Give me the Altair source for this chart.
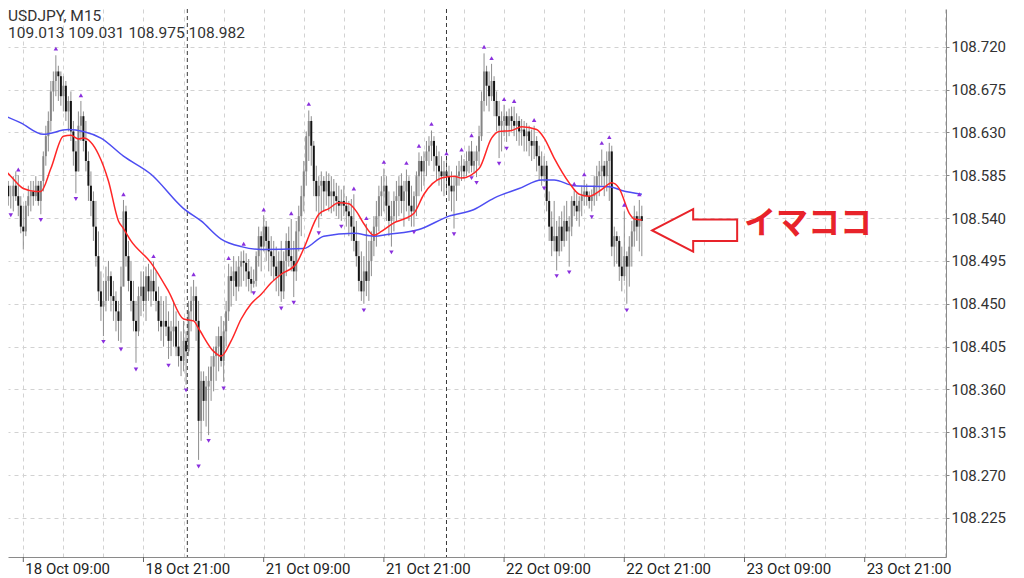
import altair as alt
import pandas as pd

SYMBOL = "USDJPY, M15"
OHLC_TEXT = "109.013 109.031 108.975 108.982"

FIRST_OPEN = 108.560
HIGH = [
    108.584, 108.578, 108.579, 108.574, 108.584, 108.589, 108.585, 108.563, 108.553, 108.558, 108.574, 108.579, 108.579, 108.584, 108.579, 108.574,
    108.610, 108.637, 108.652, 108.684, 108.694, 108.711, 108.700, 108.694, 108.689, 108.684, 108.668, 108.673, 108.642, 108.621, 108.652, 108.663,
    108.652, 108.642, 108.610, 108.589, 108.568, 108.558, 108.526, 108.484, 108.474, 108.489, 108.495, 108.484, 108.474, 108.463, 108.453, 108.489,
    108.559, 108.553, 108.516, 108.495, 108.474, 108.453, 108.468, 108.484, 108.484, 108.489, 108.492, 108.486, 108.494, 108.484, 108.468, 108.458,
    108.453, 108.458, 108.442, 108.432, 108.453, 108.442, 108.432, 108.421, 108.432, 108.421, 108.453, 108.468, 108.475, 108.468, 108.453, 108.379,
    108.379, 108.374, 108.384, 108.395, 108.405, 108.416, 108.426, 108.437, 108.432, 108.453, 108.492, 108.489, 108.500, 108.495, 108.500, 108.505,
    108.506, 108.503, 108.497, 108.489, 108.486, 108.505, 108.531, 108.526, 108.543, 108.537, 108.531, 108.521, 108.516, 108.510, 108.505, 108.516,
    108.505, 108.524, 108.531, 108.539, 108.516, 108.537, 108.553, 108.574, 108.600, 108.631, 108.653, 108.647, 108.621, 108.595, 108.584, 108.589,
    108.584, 108.589, 108.587, 108.584, 108.581, 108.577, 108.574, 108.570, 108.574, 108.563, 108.558, 108.560, 108.565, 108.537, 108.516, 108.505,
    108.500, 108.534, 108.516, 108.526, 108.542, 108.558, 108.574, 108.584, 108.592, 108.584, 108.568, 108.558, 108.568, 108.579, 108.584, 108.587,
    108.579, 108.591, 108.584, 108.574, 108.568, 108.589, 108.609, 108.605, 108.610, 108.621, 108.626, 108.632, 108.626, 108.616, 108.610, 108.605,
    108.600, 108.602, 108.595, 108.589, 108.584, 108.595, 108.600, 108.606, 108.602, 108.610, 108.616, 108.621, 108.610, 108.616, 108.637, 108.673,
    108.713, 108.700, 108.694, 108.702, 108.689, 108.673, 108.663, 108.652, 108.659, 108.652, 108.655, 108.657, 108.657, 108.650, 108.647, 108.644,
    108.642, 108.640, 108.637, 108.633, 108.637, 108.626, 108.616, 108.610, 108.605, 108.600, 108.568, 108.547, 108.558, 108.537, 108.542, 108.547,
    108.553, 108.558, 108.542, 108.563, 108.569, 108.566, 108.563, 108.574, 108.580, 108.576, 108.568, 108.570, 108.584, 108.595, 108.600, 108.612,
    108.600, 108.610, 108.619, 108.616, 108.531, 108.526, 108.521, 108.510, 108.547, 108.505, 108.521, 108.537, 108.553, 108.547, 108.559, 108.553,
]
LOW = [
    108.542, 108.553, 108.553, 108.550, 108.547, 108.558, 108.542, 108.524, 108.507, 108.521, 108.542, 108.547, 108.553, 108.558, 108.553, 108.544,
    108.568, 108.595, 108.610, 108.631, 108.652, 108.668, 108.663, 108.658, 108.652, 108.642, 108.631, 108.621, 108.595, 108.566, 108.589, 108.621,
    108.610, 108.589, 108.558, 108.542, 108.516, 108.489, 108.453, 108.432, 108.416, 108.442, 108.453, 108.442, 108.432, 108.421, 108.411, 108.409,
    108.474, 108.489, 108.463, 108.442, 108.421, 108.388, 108.416, 108.437, 108.442, 108.432, 108.453, 108.447, 108.453, 108.442, 108.421, 108.411,
    108.405, 108.416, 108.392, 108.395, 108.405, 108.395, 108.384, 108.374, 108.379, 108.365, 108.395, 108.421, 108.432, 108.411, 108.286, 108.306,
    108.327, 108.321, 108.312, 108.348, 108.358, 108.369, 108.379, 108.384, 108.368, 108.405, 108.432, 108.447, 108.458, 108.453, 108.463, 108.468,
    108.474, 108.468, 108.463, 108.461, 108.467, 108.468, 108.489, 108.484, 108.505, 108.495, 108.484, 108.479, 108.474, 108.463, 108.458, 108.452,
    108.455, 108.479, 108.489, 108.484, 108.457, 108.474, 108.505, 108.521, 108.547, 108.574, 108.600, 108.595, 108.563, 108.547, 108.530, 108.542,
    108.547, 108.553, 108.547, 108.545, 108.547, 108.542, 108.539, 108.537, 108.542, 108.531, 108.521, 108.516, 108.505, 108.489, 108.463, 108.453,
    108.450, 108.458, 108.453, 108.479, 108.500, 108.510, 108.526, 108.542, 108.547, 108.537, 108.521, 108.510, 108.526, 108.537, 108.542, 108.545,
    108.531, 108.547, 108.537, 108.531, 108.531, 108.542, 108.563, 108.568, 108.574, 108.584, 108.595, 108.600, 108.589, 108.579, 108.574, 108.568,
    108.563, 108.568, 108.558, 108.547, 108.529, 108.558, 108.574, 108.579, 108.581, 108.584, 108.587, 108.588, 108.587, 108.583, 108.595, 108.621,
    108.652, 108.658, 108.652, 108.663, 108.647, 108.631, 108.603, 108.610, 108.626, 108.620, 108.626, 108.631, 108.626, 108.621, 108.616, 108.616,
    108.610, 108.610, 108.605, 108.600, 108.602, 108.589, 108.579, 108.574, 108.578, 108.547, 108.516, 108.500, 108.505, 108.485, 108.500, 108.505,
    108.510, 108.516, 108.489, 108.521, 108.542, 108.537, 108.531, 108.542, 108.553, 108.553, 108.550, 108.547, 108.553, 108.558, 108.563, 108.574,
    108.563, 108.568, 108.558, 108.500, 108.489, 108.492, 108.474, 108.463, 108.474, 108.450, 108.468, 108.489, 108.510, 108.516, 108.505, 108.500,
]
CLOSE = [
    108.558, 108.574, 108.563, 108.563, 108.574, 108.563, 108.553, 108.531, 108.526, 108.553, 108.563, 108.568, 108.563, 108.574, 108.558, 108.579,
    108.605, 108.626, 108.642, 108.673, 108.684, 108.694, 108.689, 108.668, 108.679, 108.652, 108.663, 108.631, 108.610, 108.589, 108.637, 108.647,
    108.621, 108.600, 108.574, 108.558, 108.531, 108.500, 108.463, 108.447, 108.453, 108.474, 108.479, 108.458, 108.453, 108.442, 108.432, 108.468,
    108.547, 108.500, 108.474, 108.453, 108.432, 108.421, 108.458, 108.468, 108.453, 108.479, 108.463, 108.474, 108.463, 108.453, 108.432, 108.426,
    108.432, 108.426, 108.411, 108.421, 108.426, 108.405, 108.395, 108.390, 108.411, 108.400, 108.442, 108.453, 108.458, 108.432, 108.327, 108.369,
    108.348, 108.363, 108.369, 108.384, 108.395, 108.405, 108.416, 108.390, 108.421, 108.442, 108.479, 108.474, 108.484, 108.468, 108.489, 108.495,
    108.493, 108.484, 108.476, 108.471, 108.474, 108.500, 108.521, 108.510, 108.531, 108.516, 108.505, 108.500, 108.489, 108.479, 108.495, 108.463,
    108.495, 108.516, 108.500, 108.495, 108.484, 108.526, 108.542, 108.563, 108.589, 108.626, 108.642, 108.616, 108.579, 108.563, 108.574, 108.579,
    108.568, 108.579, 108.563, 108.568, 108.563, 108.558, 108.553, 108.558, 108.553, 108.547, 108.542, 108.531, 108.516, 108.500, 108.474, 108.463,
    108.484, 108.474, 108.495, 108.516, 108.531, 108.542, 108.563, 108.568, 108.574, 108.553, 108.537, 108.542, 108.558, 108.563, 108.574, 108.558,
    108.568, 108.579, 108.553, 108.547, 108.563, 108.584, 108.600, 108.589, 108.600, 108.610, 108.616, 108.621, 108.605, 108.595, 108.589, 108.584,
    108.589, 108.584, 108.574, 108.568, 108.574, 108.584, 108.589, 108.595, 108.589, 108.600, 108.610, 108.595, 108.600, 108.610, 108.626, 108.663,
    108.694, 108.679, 108.668, 108.684, 108.663, 108.647, 108.637, 108.642, 108.647, 108.637, 108.647, 108.642, 108.637, 108.642, 108.631, 108.633,
    108.626, 108.631, 108.621, 108.616, 108.621, 108.605, 108.595, 108.584, 108.595, 108.558, 108.531, 108.516, 108.521, 108.505, 108.531, 108.516,
    108.537, 108.526, 108.531, 108.558, 108.553, 108.547, 108.558, 108.563, 108.568, 108.563, 108.558, 108.563, 108.574, 108.584, 108.589, 108.595,
    108.584, 108.600, 108.610, 108.510, 108.521, 108.516, 108.489, 108.479, 108.500, 108.489, 108.510, 108.526, 108.542, 108.531, 108.542, 108.537,
]

# fractal markers (bar index, marker price)
UP_IDX = [1, 6, 21, 31, 48, 60, 76, 90, 96, 104, 115, 122, 140, 145, 152, 161, 166, 171, 177, 183,
          187, 192, 195, 200, 204, 212, 228, 232, 239, 242, 248, 254]
UP_PRICE = [108.584, 108.591, 108.718, 108.669, 108.565, 108.500, 108.481, 108.498, 108.513, 108.549,
            108.545, 108.660, 108.571, 108.540, 108.599, 108.598, 108.616, 108.639, 108.608, 108.612,
            108.627, 108.720, 108.708, 108.665, 108.663, 108.643, 108.576, 108.586, 108.619, 108.625,
            108.554, 108.565]
DN_IDX = [3, 15, 29, 40, 47, 53, 66, 73, 78, 82, 88, 100, 111, 116, 126, 135, 144, 155, 164, 180,
          187, 189, 198, 201, 216, 221, 226, 235, 249]
DN_PRICE = [108.543, 108.538, 108.560, 108.410, 108.402, 108.381, 108.385, 108.359, 108.279, 108.306,
            108.361, 108.461, 108.445, 108.451, 108.524, 108.531, 108.443, 108.504, 108.525, 108.523,
            108.582, 108.577, 108.597, 108.613, 108.571, 108.479, 108.483, 108.541, 108.443]

# moving averages (bar index, price)
RED_IDX = [-1, 3, 8, 13, 15, 19, 24, 27, 30, 32, 38, 42, 46, 48, 51, 59, 66, 72, 76, 78, 84, 87, 91, 95,
           99, 103, 107, 111, 117, 120, 126, 130, 134, 138, 141, 144, 148, 151, 156, 160, 164, 168, 175,
           180, 183, 190, 195, 198, 203, 207, 213, 216, 220, 226, 230, 234, 239, 243, 246, 250, 252, 255]
RED_PRICE = [108.595, 108.584, 108.571, 108.568, 108.568, 108.592, 108.626, 108.627, 108.623, 108.624,
             108.607, 108.579, 108.537, 108.529, 108.516, 108.493, 108.463, 108.434, 108.432, 108.424,
             108.400, 108.395, 108.411, 108.434, 108.450, 108.460, 108.472, 108.481, 108.492, 108.508,
             108.544, 108.550, 108.556, 108.555, 108.547, 108.534, 108.522, 108.526, 108.535, 108.539,
             108.545, 108.565, 108.582, 108.584, 108.582, 108.592, 108.624, 108.631, 108.632, 108.636,
             108.633, 108.624, 108.603, 108.577, 108.565, 108.563, 108.570, 108.577, 108.571, 108.545,
             108.539, 108.538]
BLUE_IDX = [-1, 7, 16, 26, 32, 39, 48, 59, 72, 79, 87, 95, 103, 120, 128, 140, 148, 154, 166, 178,
            188, 196, 206, 215, 220, 228, 242, 247, 255]
BLUE_PRICE = [108.649, 108.640, 108.628, 108.633, 108.631, 108.624, 108.605, 108.586, 108.550, 108.537,
              108.518, 108.510, 108.507, 108.508, 108.521, 108.524, 108.521, 108.523, 108.528, 108.542,
              108.549, 108.561, 108.571, 108.580, 108.580, 108.574, 108.573, 108.569, 108.565]

SEPARATORS = [73.5, 177]
XTICK_IDX = [8, 56, 104, 152, 200, 248, 296, 344]
XTICK_LABELS = ["18 Oct 09:00", "18 Oct 21:00", "21 Oct 09:00", "21 Oct 21:00",
                "22 Oct 09:00", "22 Oct 21:00", "23 Oct 09:00", "23 Oct 21:00"]
XGRID_IDX = list(range(8, 377, 16))
YTICKS = [108.225, 108.270, 108.315, 108.360, 108.405, 108.450, 108.495, 108.540,
          108.585, 108.630, 108.675, 108.720]

ANNOT_TEXT = "イマココ"
ARROW_POS = (276.1, 108.527)
TEXT_POS = (321.4, 108.5335)

# ---------------------------------------------------------------
n = len(CLOSE)
opens = [FIRST_OPEN] + CLOSE[:-1]
bars = pd.DataFrame({
    "i": list(range(n)), "high": HIGH, "low": LOW, "close": CLOSE, "open": opens,
})
bars["dir"] = ["bull" if c >= o else "bear" for c, o in zip(CLOSE, opens)]

up = pd.DataFrame({"i": UP_IDX, "p": UP_PRICE})
dn = pd.DataFrame({"i": DN_IDX, "p": DN_PRICE})
red = pd.DataFrame({"i": RED_IDX, "p": RED_PRICE})
blue = pd.DataFrame({"i": BLUE_IDX, "p": BLUE_PRICE})
seps = pd.DataFrame({"i": SEPARATORS})
xt = pd.DataFrame({"i": XTICK_IDX, "lab": XTICK_LABELS})
arrow_df = pd.DataFrame({"i": [ARROW_POS[0]], "p": [ARROW_POS[1]]})
text_df = pd.DataFrame({"i": [TEXT_POS[0]], "p": [TEXT_POS[1]], "t": [ANNOT_TEXT]})

# plot area starts at the page margin (8px); domain trimmed accordingly
W, H = 938, 548
xs = alt.Scale(domain=[1.89, 376.47], nice=False, zero=False)
ys = alt.Scale(domain=[108.184, 108.7596], nice=False, zero=False)

GRID = "#d2d2d2"
x_axis = alt.Axis(
    values=XGRID_IDX, grid=True, gridDash=[4, 4], gridColor=GRID, gridWidth=1,
    labels=False, ticks=False, domainColor="#8a8a8a", title=None,
)
y_axis = alt.Axis(
    orient="right", values=YTICKS, format=".3f", grid=True, gridDash=[4, 4],
    gridColor=GRID, gridWidth=1, labelFont="Roboto", labelFontSize=15,
    labelColor="#333", labelPadding=2, tickSize=3, tickColor="#8a8a8a",
    domainColor="#8a8a8a", title=None,
)


def X():
    return alt.X("i:Q", scale=xs, axis=x_axis)


def Y(f="p"):
    return alt.Y(f + ":Q", scale=ys, axis=y_axis)


wicks = alt.Chart(bars).mark_rule(strokeWidth=1, color="#8e8e8e", clip=True).encode(
    x=X(), y=Y("low"), y2="high:Q",
)
bodies = alt.Chart(bars).mark_rule(strokeWidth=2, clip=True).encode(
    x=X(), y=Y("open"), y2="close:Q",
    color=alt.Color("dir:N", scale=alt.Scale(domain=["bull", "bear"], range=["#858585", "#141414"]), legend=None),
)
xticks = alt.Chart(xt).mark_rule(color="#666", strokeWidth=1).encode(
    x=X(), y=alt.value(H), y2=alt.value(H + 5))
xlabels = alt.Chart(xt).mark_text(align="left", baseline="middle", dx=2, font="Roboto", fontSize=15, color="#222").encode(
    x=X(), y=alt.value(H + 12), text="lab:N")
sep_layer = alt.Chart(seps).mark_rule(color="#3a3a3a", strokeDash=[4, 3], strokeWidth=1).encode(x=X())
red_line = alt.Chart(red).mark_line(color="#ff2626", strokeWidth=1.5, interpolate="monotone", clip=True).encode(x=X(), y=Y())
blue_line = alt.Chart(blue).mark_line(color="#4d4df2", strokeWidth=1.5, interpolate="monotone", clip=True).encode(x=X(), y=Y())
up_pts = alt.Chart(up).mark_point(shape="triangle-up", filled=True, size=20, color="#8a30dd", opacity=1, clip=True).encode(x=X(), y=Y())
dn_pts = alt.Chart(dn).mark_point(shape="triangle-down", filled=True, size=20, color="#8a30dd", opacity=1, clip=True).encode(x=X(), y=Y())

ARROW_PATH = "M -1 0 L -0.035 -0.5 L -0.035 -0.26 L 1 -0.26 L 1 0.25 L -0.035 0.25 L -0.035 0.5 Z"
arrow = alt.Chart(arrow_df).mark_point(
    shape=ARROW_PATH, size=85 * 85, filled=True, fill="white", fillOpacity=1,
    stroke="#e8232a", strokeWidth=2, opacity=1,
).encode(x=X(), y=Y())
annot = alt.Chart(text_df).mark_text(
    font="Noto Sans CJK JP", fontSize=32, fontWeight="bold", color="#e8232a",
    align="center", baseline="middle",
).encode(x=X(), y=Y(), text="t:N")

one = pd.DataFrame({"a": [0]})
title1 = alt.Chart(one).mark_text(align="left", baseline="alphabetic", font="Roboto", fontSize=15.5, color="#333").encode(
    x=alt.value(0), y=alt.value(12), text=alt.value(SYMBOL))
title2 = alt.Chart(one).mark_text(align="left", baseline="alphabetic", font="Roboto", fontSize=15.5, color="#333").encode(
    x=alt.value(0), y=alt.value(29), text=alt.value(OHLC_TEXT))

chart = alt.layer(
    wicks, bodies, xticks, xlabels, sep_layer, blue_line, red_line, up_pts, dn_pts, arrow, annot, title1, title2
).properties(
    width=W, height=H, background="white", padding=0,
).configure_view(stroke=None)

chart.save("out.html", embed_options={"renderer": "svg", "actions": False})
